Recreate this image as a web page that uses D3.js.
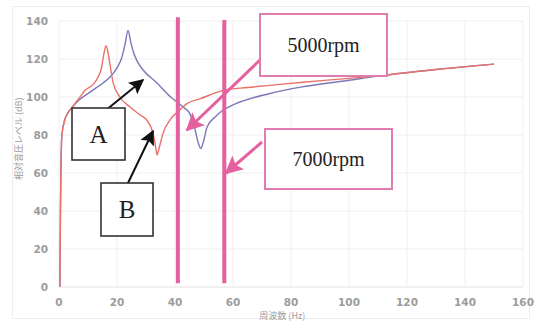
<!DOCTYPE html>
<html>
<head>
<meta charset="utf-8">
<script src="https://cdn.jsdelivr.net/npm/d3@7"></script>
<style>
  body { margin: 0; background: #fff; }
  .tick-lbl { font-family: "DejaVu Sans", sans-serif; font-size: 10.5px; font-weight: bold; fill: #9c9c9c; }
  .ax-title { font-family: "Noto Sans CJK JP", sans-serif; font-size: 9px; fill: #9c9c9c; }
  .box-txt { font-family: "Liberation Serif", "Times New Roman", serif; fill: #222; }
</style>
</head>
<body>
<div id="chart"></div>
<script>
// Set global variables (SVG dimensions, chart margins)
var svgWidth = 536;
var svgHeight = 323;

var margin = { top: 21, right: 13, bottom: 36, left: 59 };
var chartWidth = 523 - margin.left;
var chartHeight = 287 - margin.top;

// ---- data ----
var xTicks = [0, 20, 40, 60, 80, 100, 120, 140, 160];
var yTicks = [0, 20, 40, 60, 80, 100, 120, 140];

// curve B (red) : frequency (Hz) / level (dB)
var redHz = [0.3, 0.5, 1, 2, 3, 4.5, 7, 9, 11.7, 13.5, 14.6, 15.4, 16.2, 17, 17.8, 18.6, 21, 24.5, 28, 30.3, 32.4, 33.3, 33.8, 34.5, 35.9, 38.3, 41.7, 44.1, 48.6, 56.6, 65, 72, 84, 100, 110, 130, 150];
var redDb = [0, 40, 80, 88, 91.5, 94.5, 99.5, 103.5, 106.5, 110.5, 115, 122, 127, 122.5, 115, 108, 100, 94.7, 90.5, 87.8, 81, 74, 69.5, 73, 81, 88, 93.2, 96.5, 99, 103.5, 105, 106, 107.8, 109.8, 111.2, 114.5, 117.3];

// curve A (blue)
var blueHz = [0.3, 0.5, 1, 2, 3, 4.5, 7, 10.7, 15.2, 17.6, 20, 21.7, 22.8, 23.8, 24.8, 25.8, 26.9, 29, 33.8, 38.3, 41, 43, 45.2, 46.9, 47.9, 48.9, 49.9, 51, 54.2, 56.5, 61, 72.4, 83.8, 100, 110, 130, 150];
var blueDb = [0, 40, 80, 88, 91.5, 94.5, 98.5, 102.6, 107.4, 110.5, 115.3, 121, 128, 135, 128.5, 123, 119, 114.2, 107.4, 100.3, 97, 94.5, 91, 83, 76.5, 73, 77, 84, 90, 93, 96.5, 101.7, 105.3, 108.8, 111, 114.5, 117.3];

// rpm marker lines (Hz)
var rpmHz = [41, 57];

// build point lists
var redData = redHz.map((d, i) => ({ x: d, y: redDb[i] }));
var blueData = blueHz.map((d, i) => ({ x: d, y: blueDb[i] }));

var svg = d3.select("#chart")
  .append("svg")
  .attr("width", svgWidth)
  .attr("height", svgHeight);

// faint outer frame
svg.append("rect")
  .attr("x", 12.5).attr("y", 6.5)
  .attr("width", 517).attr("height", 312)
  .attr("fill", "none")
  .attr("stroke", "#eeeeee");

var chartGroup = svg.append("g")
  .attr("transform", `translate(${margin.left}, ${margin.top})`);

var xScale = d3.scaleLinear().domain([0, 160]).range([0, chartWidth]);
var yScale = d3.scaleLinear().domain([0, 140]).range([chartHeight, 0]);

// grid lines
chartGroup.append("g").selectAll("line")
  .data(yTicks)
  .enter()
  .append("line")
  .attr("x1", 0).attr("x2", chartWidth)
  .attr("y1", d => yScale(d)).attr("y2", d => yScale(d))
  .attr("stroke", d => d === 0 ? "#e2e2e2" : "#efefef");

chartGroup.append("g").selectAll("line")
  .data(xTicks)
  .enter()
  .append("line")
  .attr("x1", d => xScale(d)).attr("x2", d => xScale(d))
  .attr("y1", 0).attr("y2", chartHeight)
  .attr("stroke", "#efefef");

// tick labels
chartGroup.append("g").selectAll("text")
  .data(xTicks)
  .enter()
  .append("text")
  .attr("class", "tick-lbl")
  .attr("x", d => xScale(d))
  .attr("y", chartHeight + 19)
  .attr("text-anchor", "middle")
  .text(d => d);

chartGroup.append("g").selectAll("text")
  .data(yTicks)
  .enter()
  .append("text")
  .attr("class", "tick-lbl")
  .attr("x", -11)
  .attr("y", d => yScale(d) + 4)
  .attr("text-anchor", "end")
  .text(d => d);

// axis titles
chartGroup.append("text")
  .attr("class", "ax-title")
  .attr("x", xScale(77))
  .attr("y", chartHeight + 32)
  .attr("text-anchor", "middle")
  .text("周波数 (Hz)");

chartGroup.append("text")
  .attr("class", "ax-title")
  .attr("transform", `translate(${-37}, ${yScale(78)}) rotate(-90)`)
  .attr("text-anchor", "middle")
  .text("相対音圧レベル (dB)");

// curves
var line = d3.line()
  .x(d => xScale(d.x))
  .y(d => yScale(d.y))
  .curve(d3.curveMonotoneX);

chartGroup.append("path")
  .datum(blueData)
  .attr("d", line)
  .attr("fill", "none")
  .attr("stroke", "#7a78b8")
  .attr("stroke-width", 1.4);

chartGroup.append("path")
  .datum(redData)
  .attr("d", line)
  .attr("fill", "none")
  .attr("stroke", "#ea7068")
  .attr("stroke-width", 1.4);

// rpm vertical lines
var pink = "#e4609e";
chartGroup.append("g").selectAll("line")
  .data(rpmHz)
  .enter()
  .append("line")
  .attr("x1", d => xScale(d)).attr("x2", d => xScale(d))
  .attr("y1", (d, i) => yScale(i === 0 ? 142 : 140.5))
  .attr("y2", yScale(2))
  .attr("stroke", pink)
  .attr("stroke-width", 4);

// arrow markers
var defs = svg.append("defs");
function addMarker(id, color, size) {
  defs.append("marker")
    .attr("id", id)
    .attr("viewBox", "0 0 10 10")
    .attr("refX", 9).attr("refY", 5)
    .attr("markerUnits", "userSpaceOnUse")
    .attr("markerWidth", size).attr("markerHeight", size)
    .attr("orient", "auto")
    .append("path")
    .attr("d", "M0,0 L10,5 L0,10 L2,5 Z")
    .attr("fill", color);
}
addMarker("arrBlack", "#111", 15);
addMarker("arrPink", pink, 18);

// annotation arrows (page coordinates)
var arrows = [
  { x1: 100, y1: 115, x2: 143, y2: 80, c: "#111", w: 2, m: "arrBlack" },
  { x1: 128, y1: 183, x2: 153, y2: 131, c: "#111", w: 2, m: "arrBlack" },
  { x1: 260, y1: 60, x2: 187, y2: 130, c: pink, w: 3, m: "arrPink" },
  { x1: 262, y1: 142, x2: 226, y2: 173, c: pink, w: 3, m: "arrPink" }
];
svg.append("g").selectAll("line")
  .data(arrows)
  .enter()
  .append("line")
  .attr("x1", d => d.x1).attr("y1", d => d.y1)
  .attr("x2", d => d.x2).attr("y2", d => d.y2)
  .attr("stroke", d => d.c)
  .attr("stroke-width", d => d.w)
  .attr("marker-end", d => `url(#${d.m})`);

// annotation boxes
var boxes = [
  { x: 72, y: 108, w: 53, h: 52, t: "A", c: "#333", sw: 1.6, fs: 25 },
  { x: 101, y: 183, w: 52, h: 53, t: "B", c: "#333", sw: 1.6, fs: 25 },
  { x: 260, y: 14, w: 127, h: 62, t: "5000rpm", c: "#e27bb0", sw: 2, fs: 20 },
  { x: 265, y: 129, w: 127, h: 60, t: "7000rpm", c: "#e27bb0", sw: 2, fs: 20 }
];
var boxGrp = svg.append("g").selectAll("g")
  .data(boxes)
  .enter()
  .append("g");

boxGrp.append("rect")
  .attr("x", d => d.x).attr("y", d => d.y)
  .attr("width", d => d.w).attr("height", d => d.h)
  .attr("fill", "#fff")
  .attr("stroke", d => d.c)
  .attr("stroke-width", d => d.sw);

boxGrp.append("text")
  .attr("class", "box-txt")
  .attr("x", d => d.x + d.w / 2)
  .attr("y", d => d.y + d.h / 2 + d.fs * 0.34)
  .attr("text-anchor", "middle")
  .style("font-size", d => d.fs + "px")
  .text(d => d.t);
</script>
</body>
</html>
